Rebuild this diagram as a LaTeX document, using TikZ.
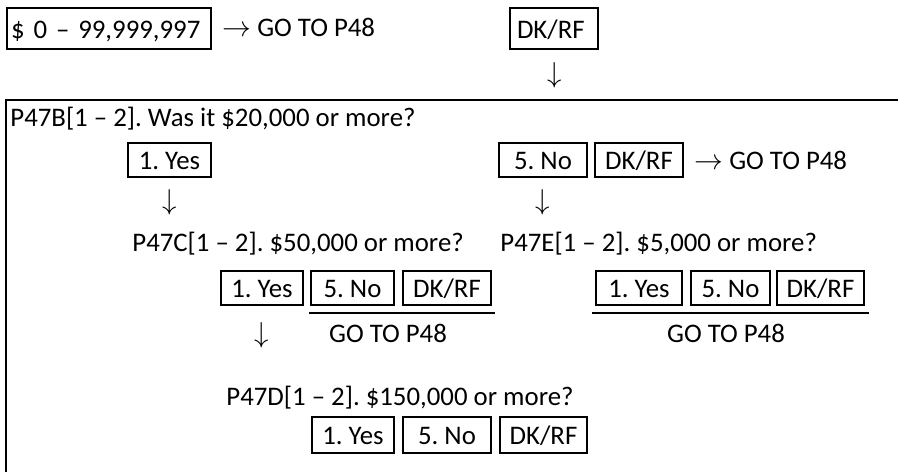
\documentclass[tikz,border=0pt]{standalone}
\usepackage{fontspec}
\setmainfont{Carlito}
\begin{document}
\frenchspacing
\begin{tikzpicture}[x=0.5pt,y=-0.5pt,
  every node/.style={inner sep=0pt},
  bw/.style={minimum width=#1*0.5pt},
  bh/.style={minimum height=#1*0.5pt},
  box/.style={draw, line width=1.1pt, text height=9.5pt, text depth=0pt, bh=34},
  lbox/.style={draw, line width=1.1pt, text height=9.5pt, text depth=0pt, bh=41, align=left},
  txt/.style={anchor=base west},
  ctxt/.style={anchor=base},
  rule/.style={line width=1.1pt}]
\useasboundingbox (0,0) rectangle (898,472);
\fontsize{13.4}{16}\selectfont
% top row
\node[lbox, text width=98pt, inner xsep=2pt] (A) at (109,28.5) {\$ 0 – 99,999,997};
\node[txt] (Ago) at (222,36.5) {$\rightarrow$ GO TO P48};
\node[lbox, text width=37pt, inner xsep=3.5pt] (B) at (554,28.5) {DK/RF};
\node (Bd) at (555,75) {$\downarrow$};
% frame
\draw[rule] (6,472) -- (6,100) -- (898,100);
% P47B
\node[txt] (q1) at (10,126) {P47B[1 – 2]. Was it \$20,000 or more?};
\node[box, bw=83] (b1y) at (169.5,160) {1. Yes};
\node[box, bw=88] (b1n) at (543,160) {5. No};
\node[box, bw=88] (b1d) at (639,160) {DK/RF};
\node[txt] (b1go) at (694,169.5) {$\rightarrow$ GO TO P48};
\node (d1y) at (170,202.5) {$\downarrow$};
\node (d1n) at (543,202.5) {$\downarrow$};
% P47C / P47E
\node[txt] (q2c) at (132,251) {P47C[1 – 2]. \$50,000 or more?};
\node[txt] (q2e) at (500,251) {P47E[1 – 2]. \$5,000 or more?};
\node[box, bw=82] (c1) at (262,288) {1. Yes};
\node[box, bw=83] (c5) at (352.5,288) {5. No};
\node[box, bw=88] (cd) at (447,288) {DK/RF};
\coordinate (cl1) at (309,313);
\coordinate (cl2) at (495,313);
\draw[rule] (cl1) -- (cl2);
\node (d2) at (262,335) {$\downarrow$};
\node[ctxt] (cgo) at (388,342) {GO TO P48};
\node[box, bw=86] (e1) at (639,288) {1. Yes};
\node[box, bw=79] (e5) at (730.5,288) {5. No};
\node[box, bw=87] (ed) at (820.5,288) {DK/RF};
\coordinate (el1) at (592,313);
\coordinate (el2) at (869,313);
\draw[rule] (el1) -- (el2);
\node[ctxt] (ego) at (726,342) {GO TO P48};
% P47D
\node[txt] (q3) at (226,405) {P47D[1 – 2]. \$150,000 or more?};
\node[box, bw=82, bh=36] (f1) at (353,435) {1. Yes};
\node[box, bw=88, bh=36] (f5) at (447,435) {5. No};
\node[box, bw=87, bh=36] (fd) at (543.5,435) {DK/RF};
\end{tikzpicture}
\end{document}
